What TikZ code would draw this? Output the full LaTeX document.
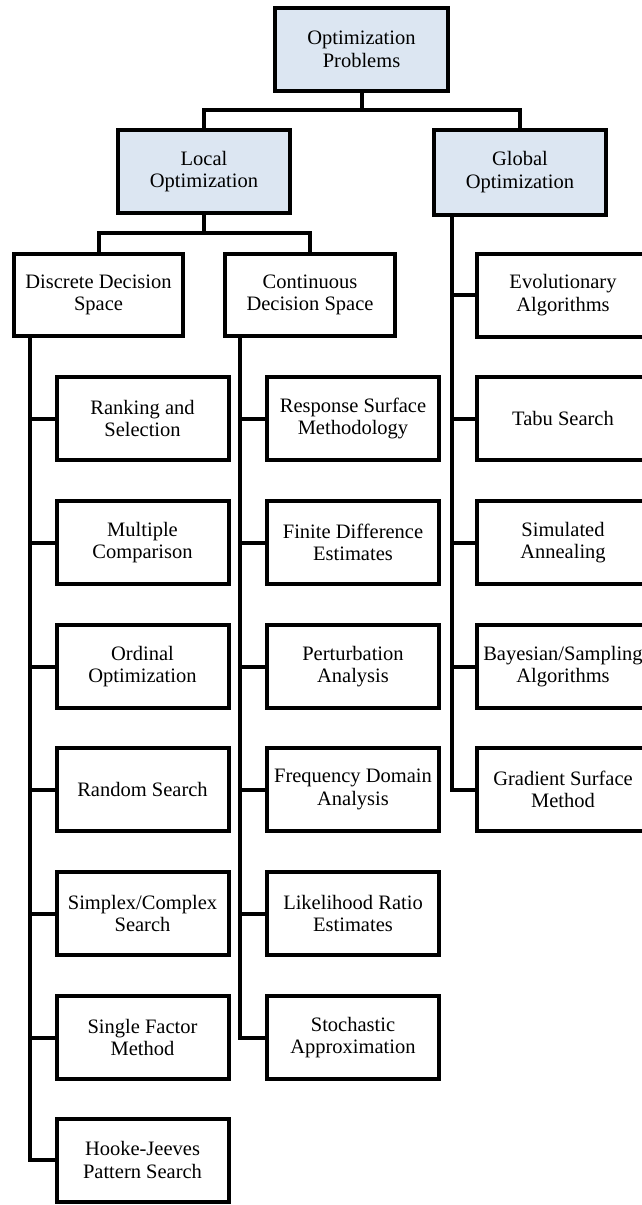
\documentclass[tikz,border=0pt]{standalone}
\usepackage{fontspec}
\setmainfont{Liberation Serif}
\definecolor{headfill}{RGB}{220,230,242}
\begin{document}
\begin{tikzpicture}[x=1pt,y=-1pt,
  box/.style={draw=black, line width=4pt, fill=white, align=center, inner sep=0pt,
    minimum width=172pt, minimum height=83pt,
    font=\fontsize{20.5}{22.5}\selectfont},
  headbox/.style={box, fill=headfill},
  conn/.style={draw=black, line width=4pt, line join=miter}]
\useasboundingbox (0,0) rectangle (642,1205);
\fill[white] (0,0) rectangle (642,1205);

% header boxes
\node[headbox, minimum width=173pt] (top) at (361.5,49.5) {Optimization\\Problems};
\node[headbox] (local) at (204,171.5) {Local\\Optimization};
\node[headbox, minimum height=85pt] (global) at (520,172) {Global\\Optimization};

% second level
\node[box, minimum width=169pt, minimum height=82pt] (disc) at (98.5,295) {Discrete Decision\\Space};
\node[box, minimum width=170pt, minimum height=82pt] (cont) at (310,295) {Continuous\\Decision Space};

% discrete children
\node[box] (d1) at (142.5,418.5) {Ranking and\\Selection};
\node[box] (d2) at (142.5,542.5) {Multiple\\Comparison};
\node[box] (d3) at (142.5,666.5) {Ordinal\\Optimization};
\node[box] (d4) at (142.5,789.5) {Random Search};
\node[box] (d5) at (142.5,913.5) {Simplex/Complex\\Search};
\node[box] (d6) at (142.5,1037.5) {Single Factor\\Method};
\node[box] (d7) at (142.5,1160) {Hooke-Jeeves\\Pattern Search};

% continuous children
\node[box] (c1) at (353,418.5) {Response Surface\\Methodology};
\node[box] (c2) at (353,542.5) {Finite Difference\\Estimates};
\node[box] (c3) at (353,666.5) {Perturbation\\Analysis};
\node[box] (c4) at (353,789.5) {Frequency Domain\\Analysis};
\node[box] (c5) at (353,913.5) {Likelihood Ratio\\Estimates};
\node[box] (c6) at (353,1037.5) {Stochastic\\Approximation};

% global children
\node[box] (g1) at (563,295) {Evolutionary\\Algorithms};
\node[box] (g2) at (563,418.5) {Tabu Search};
\node[box] (g3) at (563,542.5) {Simulated\\Annealing};
\node[box] (g4) at (563,666.5) {Bayesian/Sampling\\Algorithms};
\node[box] (g5) at (563,789.5) {Gradient Surface\\Method};

% connectors: top level
\coordinate (j1) at (361.5,110);
\draw[conn] (top.south) -- (j1);
\draw[conn] (local.north) |- (j1) -| (global.north);

% connectors: local level
\coordinate (j2) at (204,233);
\draw[conn] (local.south) -- (j2);
\draw[conn] (disc.north) |- (j2) -| (cont.north);

% trunks
\coordinate (dt) at (30,0);
\coordinate (ct) at (240,0);
\coordinate (gt) at (452,0);

\draw[conn] (disc.south -| dt) |- (d7.west);
\foreach \n in {d1,d2,d3,d4,d5,d6} \draw[conn] (\n.west) -- (\n.west -| dt);

\draw[conn] (cont.south -| ct) |- (c6.west);
\foreach \n in {c1,c2,c3,c4,c5} \draw[conn] (\n.west) -- (\n.west -| ct);

\draw[conn] (global.south -| gt) |- (g5.west);
\foreach \n in {g1,g2,g3,g4} \draw[conn] (\n.west) -- (\n.west -| gt);
\end{tikzpicture}
\end{document}
